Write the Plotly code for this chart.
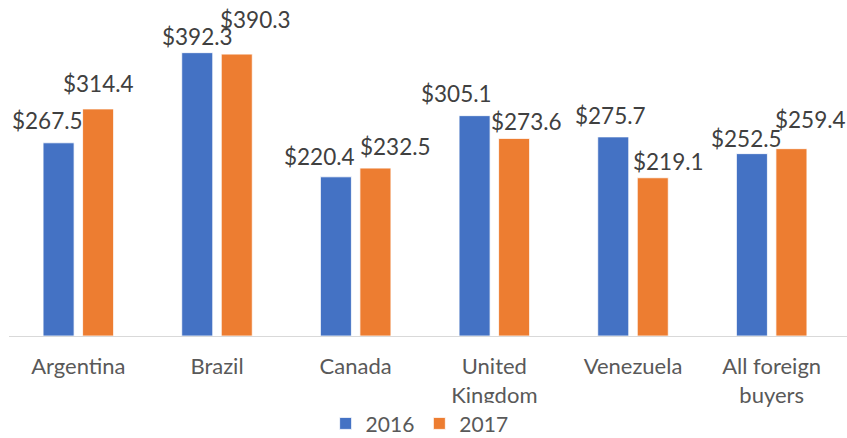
import plotly.graph_objects as go

categories = ["Argentina", "Brazil", "Canada", "United<br>Kingdom", "Venezuela", "All foreign<br>buyers"]
values_2016 = [267.5, 392.3, 220.4, 305.1, 275.7, 252.5]
values_2017 = [314.4, 390.3, 232.5, 273.6, 219.1, 259.4]
series_names = ["2016", "2017"]

# label nudges (pixels) relative to group centre / bar top, mimicking the original layout
dx_2016 = [-31, -20, -36, -37.5, -22.5, -25.5]
dy_2016 = [22, 16, 20, 22, 21, 15]
dx_2017 = [20, 38, 39.5, 32, 35.5, 38.5]
dy_2017 = [25, 35, 22, 17, 16, 29]

BLUE = "#4472C4"
ORANGE = "#ED7D31"
FONT = "Lato"

fig = go.Figure()
fig.add_trace(go.Bar(x=categories, y=values_2016, name=series_names[0],
                     marker=dict(color=BLUE, line=dict(color="white", width=0.8))))
fig.add_trace(go.Bar(x=categories, y=values_2017, name=series_names[1],
                     marker=dict(color=ORANGE, line=dict(color="white", width=0.8))))

annotations = []
for vals, dxs, dys in ((values_2016, dx_2016, dy_2016), (values_2017, dx_2017, dy_2017)):
    for c, v, dx, dy in zip(categories, vals, dxs, dys):
        annotations.append(dict(x=c, y=v, xref="x", yref="y", text=f"${v:.1f}",
                                showarrow=False, xshift=dx, yshift=dy,
                                xanchor="center", yanchor="middle",
                                font=dict(family=FONT, size=22.5, color="#404040")))

# plot area: categories span 9..841 px; extend range slightly right so labels aren't clipped
slot = 832 / 6
extra_right = 6 / slot

fig.update_layout(
    width=847, height=438,
    margin=dict(l=9, r=0, t=11, b=102, autoexpand=False),
    paper_bgcolor="white", plot_bgcolor="white",
    barmode="group", bargap=0.43, bargroupgap=0.215,
    font=dict(family=FONT, color="#595959"),
    showlegend=True,
    legend=dict(orientation="h", x=0.49, xanchor="center", y=-0.27, yanchor="middle",
                font=dict(family=FONT, size=21, color="#595959"),
                itemwidth=30, tracegroupgap=0),
    annotations=annotations,
)
fig.update_xaxes(range=[-0.5, 5.5 + extra_right], automargin=False,
                 showline=False, ticks="",
                 tickfont=dict(family=FONT, size=22, color="#595959"),
                 ticklabelstandoff=15, showgrid=False, zeroline=False)
fig.update_yaxes(range=[0, 450], automargin=False, showgrid=False, zeroline=True,
                 zerolinecolor="#d9d9d9", zerolinewidth=1, showticklabels=False,
                 showline=False, ticks="")

fig.write_html("out.html", config={"displayModeBar": False},
               post_script="document.body.style.margin='0';document.body.style.overflow='hidden';")
